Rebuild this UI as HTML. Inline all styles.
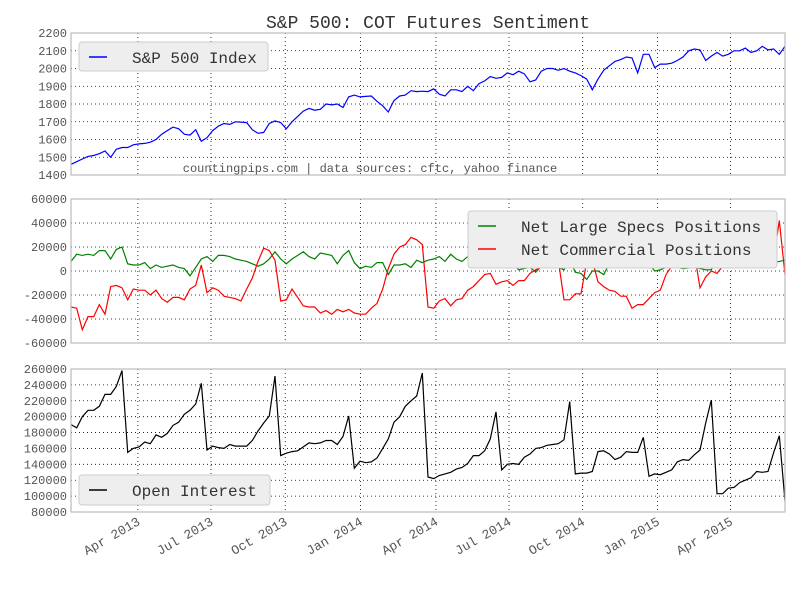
<!DOCTYPE html>
<html><head><meta charset="utf-8"><style>
body{margin:0;background:#fff;}
svg{display:block;font-family:"Liberation Mono",monospace;}
</style></head><body>
<svg id="chart" width="800" height="600" viewBox="0 0 800 600">
<rect width="800" height="600" fill="#fff"/>
<text x="428" y="28" text-anchor="middle" font-size="18" fill="#333">S&amp;P 500: COT Futures Sentiment</text>
</svg>
<script>
const spx=[1460,1475,1490,1505,1510,1520,1535,1500,1545,1555,1555,1570,1575,1578,1585,1600,1630,1650,1670,1660,1630,1625,1655,1590,1610,1650,1675,1690,1685,1700,1698,1695,1655,1635,1640,1690,1705,1695,1660,1700,1730,1760,1775,1765,1770,1800,1795,1800,1780,1840,1850,1840,1843,1845,1815,1790,1755,1820,1845,1850,1875,1870,1872,1870,1885,1855,1845,1880,1880,1870,1900,1875,1915,1930,1955,1945,1950,1975,1965,1985,1970,1925,1935,1985,2000,2000,1990,2000,1985,1975,1960,1940,1880,1940,1990,2015,2040,2050,2065,2060,1975,2080,2080,2005,2025,2025,2030,2045,2065,2100,2110,2105,2045,2070,2090,2070,2080,2100,2100,2115,2090,2100,2125,2105,2110,2080,2125];
const specs=[8000,14000,13000,14000,13000,17000,17000,10000,18000,20000,6000,5000,5000,7000,2000,5000,3000,4000,5000,3000,2000,-4000,3000,10000,12000,8000,13000,13000,12000,10000,9000,8000,6000,4000,6000,10000,16000,10000,6000,10000,13000,16000,12000,10000,15000,14000,13000,6000,13000,17000,7000,2000,4000,3000,7000,7000,-3000,5000,5000,6000,3000,9000,7000,9000,10000,12000,8000,14000,10000,8000,12000,8000,9000,4000,10000,7000,5000,5000,6000,1000,2000,3000,-1000,4000,4000,3500,3000,1000,10000,-1000,-2000,-7000,0,0,-3000,6000,6000,6500,7000,8000,6000,7000,6000,0,1000,3000,5000,3000,2000,2500,3000,2000,1000,1000,10000,12000,7000,10000,12000,10000,9000,8000,7500,7000,7000,8000,9000];
const comm=[-30000,-31000,-49000,-38000,-38000,-28000,-36000,-13000,-12000,-14000,-24000,-15000,-16000,-16000,-20000,-16000,-23000,-26000,-22000,-22000,-24000,-15000,-12000,5000,-18000,-14000,-16000,-21000,-22000,-23000,-25000,-15000,-6000,8000,19000,17000,9000,-25000,-24000,-15000,-22000,-29000,-30000,-30000,-35000,-33000,-36000,-32000,-34000,-32000,-35000,-36000,-36000,-31000,-27000,-15000,2000,14000,20000,22000,28000,26000,22000,-30000,-31000,-25000,-23000,-29000,-24000,-23000,-16000,-13000,-8000,-3000,-2000,-11000,-9000,-8000,-12000,-8000,-8000,-2000,1000,3000,4000,7000,9000,-24000,-24000,-19000,-19000,8000,9000,-9000,-13000,-16000,-17000,-21000,-21000,-31000,-28000,-28000,-23000,-18000,-16000,-3000,4000,6000,10000,14000,15000,-14000,-5000,0,-2000,4000,7000,18000,7000,10000,10000,11000,12000,15000,10000,42000,-3000];
const oi=[190000,186000,200000,208000,208000,213000,228000,228000,238000,258000,155000,160000,162000,168000,166000,177000,174000,179000,189000,193000,203000,208000,216000,242000,158000,163000,161000,160000,165000,163000,163000,163000,170000,182000,192000,201000,251000,151000,154000,156000,157000,162000,167000,166000,167000,170000,170000,165000,175000,201000,135000,144000,142000,143000,148000,160000,172000,193000,200000,213000,220000,226000,255000,124000,122000,126000,128000,130000,134000,136000,141000,151000,151000,157000,172000,206000,133000,140000,141000,140000,149000,153000,160000,161000,164000,165000,166000,171000,219000,128000,129000,129000,131000,156000,157000,153000,146000,149000,156000,155000,155000,174000,125000,128000,127000,130000,133000,143000,146000,145000,152000,158000,192000,221000,103000,103000,110000,111000,117000,120000,123000,131000,130000,131000,155000,176000,94000];
const dateTickWeeks=[11.8,24.7,37.8,51.1,64.4,77.3,90.3,103.5,116.4];
const dateTickLabels=["Apr 2013","Jul 2013","Oct 2013","Jan 2014","Apr 2014","Jul 2014","Oct 2014","Jan 2015","Apr 2015"];
const spxTicks=[1400,1500,1600,1700,1800,1900,2000,2100,2200];
const posTicks=[-60000,-40000,-20000,0,20000,40000,60000];
const oiTicks=[80000,100000,120000,140000,160000,180000,200000,220000,240000,260000];

const NS="http://www.w3.org/2000/svg";
const svg=document.getElementById('chart');
const X0=71,X1=785,NW=spx.length-1;
function xs(w){return X0+w*(X1-X0)/NW;}
function mk(tag,attrs,parent){const e=document.createElementNS(NS,tag);for(const k in attrs)e.setAttribute(k,attrs[k]);(parent||svg).appendChild(e);return e;}

const panels=[
 {name:'spx',top:33,bot:175,min:1400,max:2200,ticks:spxTicks,series:[{d:spx,c:'#0000ff',n:'spx-line'}]},
 {name:'positions',top:199,bot:343,min:-60000,max:60000,ticks:posTicks,series:[{d:specs,c:'#008000',n:'large-specs-line'},{d:comm,c:'#ff0000',n:'commercial-line'}]},
 {name:'open-interest',top:369,bot:512,min:80000,max:260000,ticks:oiTicks,series:[{d:oi,c:'#000000',n:'open-interest-line'}]}
];
panels.forEach(p=>{
 const ys=v=>p.bot-(v-p.min)/(p.max-p.min)*(p.bot-p.top);
 const g=mk('g',{});
 
 
 mk('rect',{x:X0,y:p.top,width:X1-X0,height:p.bot-p.top,fill:'#fff'},g);
 p.ticks.forEach(t=>{
  const y=ys(t);
  if(t>p.min&&t<p.max){const l=mk('line',{x1:X0,x2:X1,y1:y,y2:y,stroke:'#000','stroke-width':0.8,'stroke-dasharray':'1,3'},g);
   }
  const tx=mk('text',{x:X0-4,y:y+4,'text-anchor':'end','font-size':12,fill:'#555'},g);
  
  
  tx.textContent=t;
 });
 dateTickWeeks.forEach(w=>{
  const x=xs(w);
  const l=mk('line',{x1:x,x2:x,y1:p.top,y2:p.bot,stroke:'#000','stroke-width':0.8,'stroke-dasharray':'1,3'},g);
  
  
 });
 p.series.forEach(s=>{
  const pts=s.d.map((v,i)=>xs(i).toFixed(1)+','+ys(v).toFixed(1)).join(' ');
  const pl=mk('polyline',{points:pts,fill:'none',stroke:s.c,'stroke-width':1.2},g);
  
  
 });
 const fr=mk('rect',{x:X0,y:p.top,width:X1-X0,height:p.bot-p.top,fill:'none',stroke:'#bbb','stroke-width':1.2},g);
 
 
});
function legend(name,x,y,w,h,items){
 const g=mk('g',{});
 
 
 mk('rect',{x:x,y:y,width:w,height:h,rx:3,fill:'#eeeeee',stroke:'#ccc'},g);
 items.forEach((it,i)=>{
  const yy=y+15+i*23;
  mk('line',{x1:x+10,x2:x+28,y1:yy,y2:yy,stroke:it.c,'stroke-width':1.5},g);
  const t=mk('text',{x:x+53,y:yy+6,'font-size':16,fill:'#333'},g);
  
  
  t.textContent=it.t;
 });
}
legend('spx-legend',79,42,189,29,[{c:'#0000ff',t:'S&P 500 Index'}]);
legend('positions-legend',468,211,309,57,[{c:'#008000',t:'Net Large Specs Positions'},{c:'#ff0000',t:'Net Commercial Positions'}]);
legend('oi-legend',79,475,191,30,[{c:'#000000',t:'Open Interest'}]);
const wm=mk('text',{x:370,y:172,'text-anchor':'middle','font-size':12,fill:'#555'});


wm.textContent='countingpips.com | data sources: cftc, yahoo finance';
dateTickWeeks.forEach((w,i)=>{
 const x=xs(w)+3,y=524;
 const t=mk('text',{x:x,y:y,'text-anchor':'end','font-size':13,fill:'#555',transform:'rotate(-30 '+x+' '+y+')'});
 
 
 t.textContent=dateTickLabels[i];
});
</script>
</body></html>
